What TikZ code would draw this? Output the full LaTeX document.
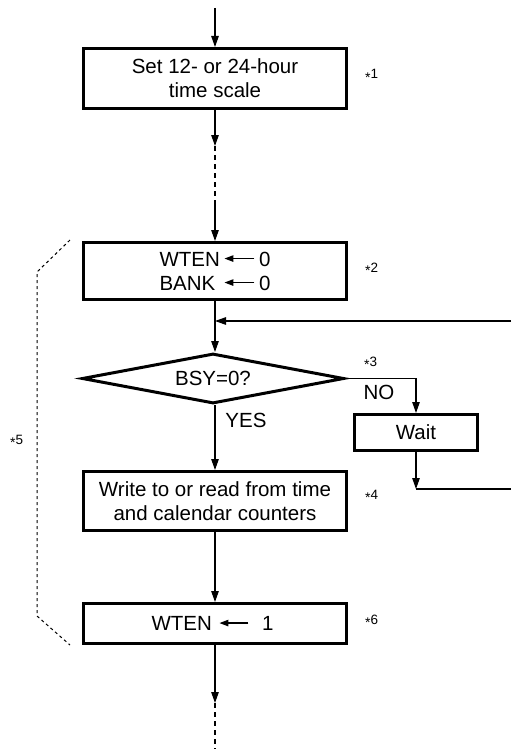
\documentclass[tikz,border=0pt]{standalone}
\usepackage{fontspec}
\setmainfont{Liberation Sans}
\usetikzlibrary{shapes.geometric, arrows.meta}

\newcommand{\boxfont}{\fontsize{20.5}{24}\selectfont}
\newcommand{\starmark}{\smash{\raisebox{-3.5pt}{\fontsize{14}{14}\selectfont *}}}
\newcommand{\assign}[1]{\tikz[baseline=0pt]\draw[line width=1.2pt,-{Triangle[length=9pt,width=6.5pt]}] (#1,7.5pt) -- (0pt,7.5pt);}

\begin{document}
\begin{tikzpicture}[x=1pt, y=-1pt, >={Triangle[length=11pt,width=7.5pt]},
      flow/.style={->, line width=1.2pt},
      gap/.style={line width=1.2pt, dash pattern=on 5pt off 4pt},
      box/.style={draw, line width=3pt, minimum width=263pt, align=center, inner sep=0pt, font=\boxfont},
      test/.style={draw, diamond, aspect=5.3, line width=3pt, minimum width=262pt, minimum height=50pt, inner sep=0pt, font=\boxfont},
      answer/.style={font=\boxfont},
      note/.style={anchor=base west, inner sep=0pt, font=\fontsize{13.5}{15}\selectfont},
      bracket/.style={line width=1pt, dash pattern=on 3pt off 3pt}]
      \useasboundingbox (0,0) rectangle (511,749);

      \node[box, minimum height=60pt] (scale) at (215,78.5) {Set 12- or 24-hour\\time scale};
      \node[box, minimum height=57pt] (init) at (215,271) {WTEN\hspace{4pt}\assign{30pt}\hspace{4pt}0\\\rlap{BANK}\phantom{WTEN}\hspace{4pt}\assign{30pt}\hspace{4pt}0};
      \node[test] (busy) at (213,378.5) {BSY=0?};
      \node[box, minimum width=123pt, minimum height=36pt] (wait) at (416,432.5) {Wait};
      \node[box, minimum height=59pt] (access) at (215,501) {Write to or read from time\\and calendar counters};
      \node[box, minimum height=40pt] (done) at (215,623.5) {WTEN\hspace{7pt}\assign{29pt}\hspace{13pt}1\kern5pt};

      \node[answer] (yes) at (246,420) {YES};
      \node[answer] (no) at (379,392) {NO};

      \node[note] (n1) at (365,79) {\starmark1};
      \node[note] (n2) at (365,272) {\starmark2};
      \node[note] (n3) at (364,366) {\starmark3};
      \node[note] (n4) at (365,499) {\starmark4};
      \node[note] (n5) at (10,444) {\starmark5};
      \node[note] (n6) at (365,624) {\starmark6};

      \coordinate (entry) at (215,8);
      \coordinate (cut1) at (215,146);
      \coordinate (cut2) at (215,202);
      \coordinate (join) at (215,321);
      \coordinate (loopin) at (511,321);
      \coordinate (loopout) at (416,489);
      \coordinate (exit) at (511,489);
      \coordinate (cut3) at (215,703);
      \coordinate (leave) at (215,749);

      \path[flow] (entry) edge (scale)
            (scale) edge (cut1)
            (cut2) edge (init)
            (init) edge (init |- busy.north)
            (loopin) edge (join)
            (init |- busy.south) edge (access)
            (access) edge (done)
            (done) edge (cut3)
            (wait) edge (loopout)
            ;
      \draw[flow] (busy.east) -| (wait.north);
      \draw[line width=1.2pt] (loopout) -- (exit);
      \path[gap] (cut1) edge (cut2)
            (cut3) edge (leave);

      % bracket round the write sequence
      \draw[bracket] (70,240) -- (37,272) -- (37,616) -- (70,645);
    \end{tikzpicture}
\end{document}
